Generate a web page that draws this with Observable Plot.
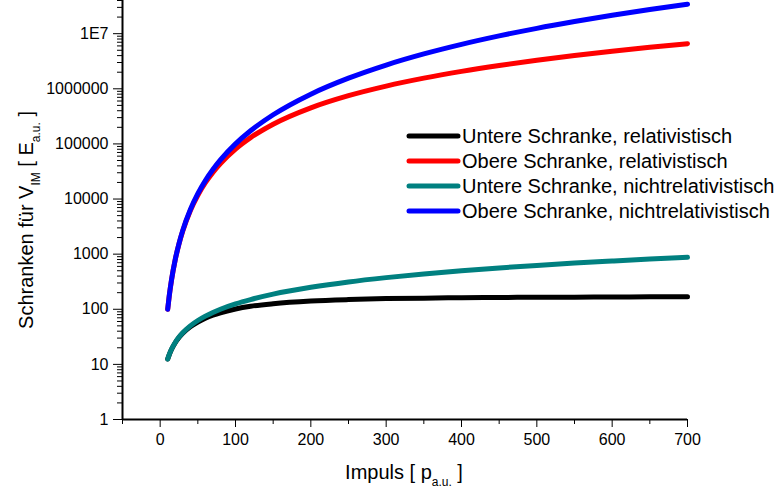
<!DOCTYPE html>
<html>
<head>
<meta charset="utf-8">
<script src="https://cdn.jsdelivr.net/npm/d3@7"></script>
<script src="https://cdn.jsdelivr.net/npm/@observablehq/plot@0.6"></script>
<style>
  html, body { margin: 0; padding: 0; background: #fff; }
  #chart { width: 781px; height: 491px; }
  svg { font-family: "Liberation Sans", Arial, sans-serif; }
</style>
</head>
<body>
<div id="chart"></div>
<script>
// Momentum values (atomic units)
const impuls = [10, 12, 15, 20, 25, 30, 40, 50, 60, 70, 80, 100, 120, 150, 200, 250, 300, 350, 400, 450, 500, 550, 600, 650, 700];

// Bounds for V_IM (atomic energy units)
const untereRel = [12.5, 14.9, 18.6, 24.7, 30.7, 36.6, 48.0, 58.7, 68.7, 77.9, 86.4, 101, 113, 126, 141, 150, 156, 159, 162, 164, 165, 166, 167, 168, 168];
const obereRel = [100, 172, 335, 792, 1540, 2640, 6140, 11700, 19800, 30500, 44200, 80800, 130000, 228000, 452000, 751000, 1120000, 1560000, 2070000, 2650000, 3300000, 4020000, 4810000, 5660000, 6590000];
const untereNichtrel = [12.5, 15, 18.8, 25, 31.3, 37.5, 50, 62.5, 75, 87.5, 100, 125, 150, 188, 250, 313, 375, 438, 500, 563, 625, 688, 750, 813, 875];
const obereNichtrel = [100, 173, 338, 800, 1560, 2700, 6400, 12500, 21600, 34300, 51200, 100000, 173000, 338000, 800000, 1560000, 2700000, 4290000, 6400000, 9110000, 12500000, 16600000, 21600000, 27500000, 34300000];

const seriesNames = [
  "Untere Schranke, relativistisch",
  "Obere Schranke, relativistisch",
  "Untere Schranke, nichtrelativistisch",
  "Obere Schranke, nichtrelativistisch"
];
const seriesValues = [untereRel, obereRel, untereNichtrel, obereNichtrel];
const seriesColors = ["#000000", "#ff0000", "#008080", "#0000ff"];

// Axis ticks
const xTicks = [0, 100, 200, 300, 400, 500, 600, 700];
const xMinorTicks = [-50, 50, 150, 250, 350, 450, 550, 650];
const yTicks = [1, 10, 100, 1000, 10000, 100000, 1000000, 10000000];
const yTickLabels = ["1", "10", "100", "1000", "10000", "100000", "1000000", "1E7"];

const yMinorTicks = [];
for (let e = 0; e <= 7; e++) {
  for (let m = 2; m <= 9; m++) {
    const v = m * Math.pow(10, e);
    if (v <= 4e7) yMinorTicks.push(v);
  }
}

// Long table: one row per point and series
const rows = [];
seriesNames.forEach((name, si) => {
  impuls.forEach((p, i) => rows.push({series: name, p, v: seriesValues[si][i]}));
});

const chart = Plot.plot({
  width: 781,
  height: 491,
  marginLeft: 122,
  marginRight: 94,
  marginTop: 0,
  marginBottom: 72,
  style: {fontFamily: "'Liberation Sans', Arial, sans-serif", fontSize: "16px", color: "#000", background: "#fff"},
  x: {domain: [-50, 700]},
  y: {type: "log", domain: [1, 4e7]},
  color: {domain: seriesNames, range: seriesColors},
  marks: [
    Plot.axisX({ticks: xMinorTicks, tickSize: 5, tickWidth: 1.5, text: null, label: null}),
    Plot.axisX({ticks: xTicks, tickSize: 8, tickWidth: 1.5, tickPadding: 6, fontSize: 16, label: null}),
    Plot.axisY({ticks: yMinorTicks, tickSize: 5, tickWidth: 1.2, text: null, label: null}),
    Plot.axisY({ticks: yTicks, tickSize: 9, tickWidth: 1.5, tickPadding: 5, fontSize: 16, label: null,
      tickFormat: d => yTickLabels[yTicks.indexOf(d)]}),
    Plot.ruleY([1], {stroke: "#000", strokeWidth: 2}),
    Plot.ruleX([-50], {stroke: "#000", strokeWidth: 2}),
    Plot.line(rows, {x: "p", y: "v", z: "series", stroke: "series", strokeWidth: 5, curve: "monotone-x"})
  ]
});

document.getElementById("chart").appendChild(chart);

const svg = d3.select(chart);

// Axis titles with subscripts
const xt = svg.append("text")
  .attr("x", 404).attr("y", 479)
  .attr("text-anchor", "middle")
  .attr("font-size", 20).attr("fill", "#000");
xt.append("tspan").text("Impuls [ p");
xt.append("tspan").attr("font-size", 12).attr("dy", 7).text("a.u.");
xt.append("tspan").attr("dy", -7).text(" ]");

const yt = svg.append("text")
  .attr("transform", "translate(33,220) rotate(-90)")
  .attr("text-anchor", "middle")
  .attr("font-size", 20).attr("fill", "#000");
yt.append("tspan").text("Schranken für V");
yt.append("tspan").attr("font-size", 12).attr("dy", 7).text("IM");
yt.append("tspan").attr("dy", -7).text(" [ E");
yt.append("tspan").attr("font-size", 12).attr("dy", 7).text("a.u.");
yt.append("tspan").attr("dy", -7).text(" ]");

// Legend
const legend = svg.append("g").attr("text-anchor", "start");
seriesNames.forEach((name, i) => {
  const y = 136 + i * 25;
  legend.append("line")
    .attr("x1", 409).attr("x2", 458).attr("y1", y).attr("y2", y)
    .attr("stroke", seriesColors[i]).attr("stroke-width", 5).attr("stroke-linecap", "round");
  legend.append("text")
    .attr("x", 462).attr("y", y).attr("dy", "0.35em")
    .attr("text-anchor", "start")
    .attr("font-size", 20).attr("fill", "#000")
    .text(name);
});
</script>
</body>
</html>
